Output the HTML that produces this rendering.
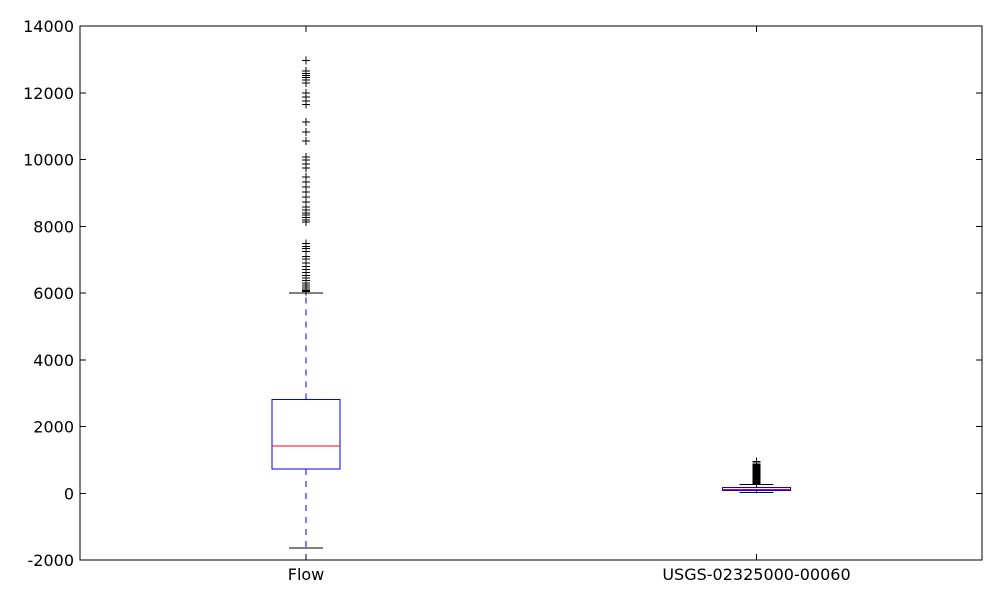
<!DOCTYPE html>
<html><head><meta charset="utf-8"><style>
body{margin:0;background:#fff}
svg text{font-family:"DejaVu Sans","Liberation Sans",sans-serif;font-size:16px;fill:#000}
line,rect{shape-rendering:crispEdges}
</style></head><body>
<svg id="chart" width="1000" height="600" xmlns="http://www.w3.org/2000/svg">
<rect x="0" y="0" width="1000" height="600" fill="#fff"/>
<g id="plot"></g>
</svg>
<script>
const categories = ["Flow", "USGS-02325000-00060"];
const q1 = [720, 75];
const medians = [1410, 110];
const q3 = [2815, 175];
const whiskLow = [-1640, 25];
const whiskHigh = [6000, 260];
const outliersFlow = [12970,12650,12580,12520,12450,12380,12290,11990,11880,11760,11650,11130,10830,10560,10070,9980,9860,9740,9470,9320,9170,9020,8870,8720,8570,8480,8400,8330,8260,8190,8120,7490,7400,7330,7250,7100,7020,6900,6800,6700,6620,6520,6450,6380,6300,6240,6180,6120,6080,6040];
const outliersUsgs = [270,290,320,350,380,410,440,470,500,530,560,590,620,650,680,710,740,770,800,830,860,900,950];
const outliers = [outliersFlow, outliersUsgs];
const yTicks = [-2000,0,2000,4000,6000,8000,10000,12000,14000];

const L=80,R=982,T=26,B=560,yMin=-2000,yMax=14000;
const y=v=>B-(v-yMin)/(yMax-yMin)*(B-T);
const x=i=>L+(i+0.5)/categories.length*(R-L)+(i===0?0.5:0);
const NS="http://www.w3.org/2000/svg";
const g=document.getElementById('plot');
function mk(tag,attrs,name){const e=document.createElementNS(NS,tag);for(const k in attrs)e.setAttribute(k,attrs[k]);


g.appendChild(e);return e;}
function line(x1,y1,x2,y2,stroke,name,extra){return mk('line',Object.assign({x1,y1,x2,y2,stroke,'stroke-width':1},extra||{}),name);}

yTicks.forEach(v=>{const yy=y(v);
line(L,yy,L+6,yy,'#000','y-tick');line(R,yy,R-6,yy,'#000','y-tick-right');
const t=mk('text',{x:L-6,y:yy+6,'text-anchor':'end'},'y-tick-label');t.textContent=v;});

categories.forEach((c,i)=>{const cx=x(i),hw=34,cw=17;
line(cx,B,cx,B-6,'#000','x-tick');line(cx,T,cx,T+6,'#000','x-tick-top');
const t=mk('text',{x:cx,y:580,'text-anchor':'middle'},'x-tick-label');t.textContent=c;
line(cx,y(q3[i]),cx,y(whiskHigh[i]),'#0000ff','whisker-upper',{'stroke-dasharray':'6,6'});
line(cx,y(q1[i]),cx,y(whiskLow[i]),'#0000ff','whisker-lower',{'stroke-dasharray':'6,6'});
line(cx-cw,y(whiskHigh[i]),cx+cw,y(whiskHigh[i]),'#000','cap-upper');
line(cx-cw,y(whiskLow[i]),cx+cw,y(whiskLow[i]),'#000','cap-lower');
mk('rect',{x:cx-hw,y:y(q3[i]),width:2*hw,height:Math.max(1,y(q1[i])-y(q3[i])),fill:'none',stroke:'#0000ff','stroke-width':1},'box');
line(cx-hw,y(medians[i]),cx+hw,y(medians[i]),'#ff0000','median-line');
outliers[i].forEach(v=>{const yy=y(v);
line(cx-4,yy,cx+4,yy,'#000','outlier-h');line(cx,yy-4,cx,yy+4,'#000','outlier-v');});
});
mk('rect',{x:L,y:T,width:R-L,height:B-T,fill:'none',stroke:'#000','stroke-width':1},'plot-frame');
</script>
</body></html>
